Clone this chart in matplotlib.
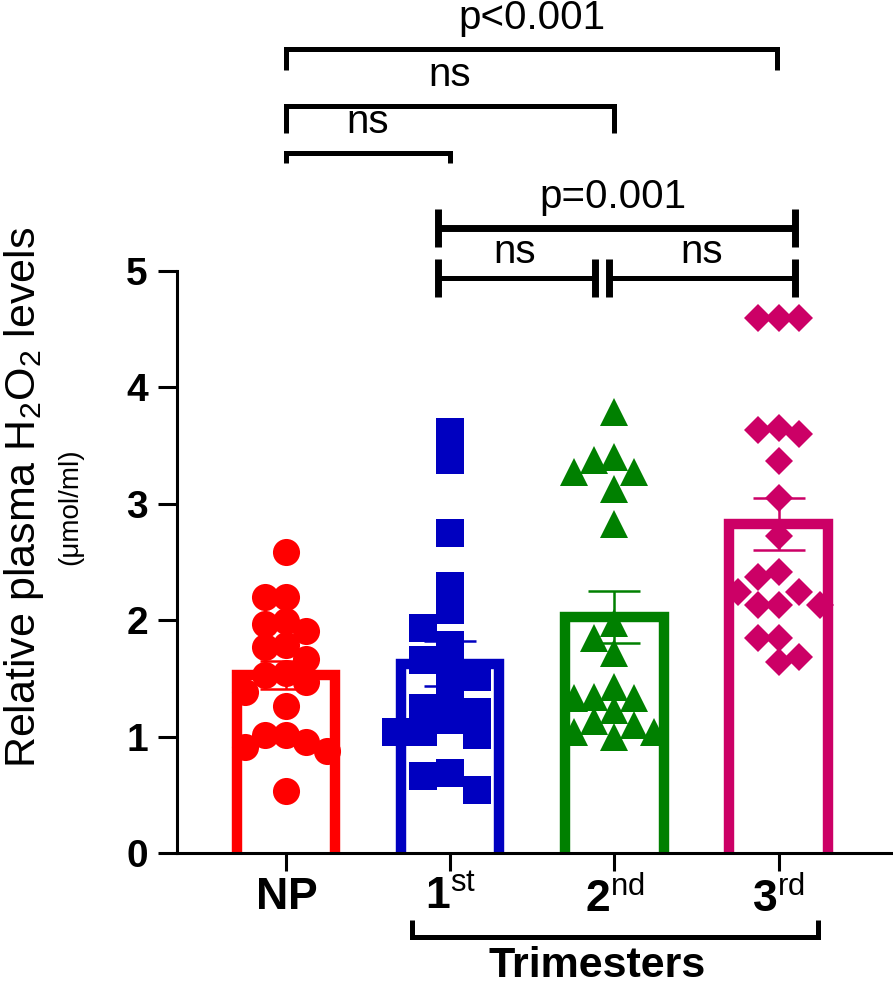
import numpy as np
import matplotlib.pyplot as plt

plt.rcParams['font.family'] = ['Liberation Sans', 'DejaVu Sans']
plt.rcParams['mathtext.fontset'] = 'custom'
plt.rcParams['mathtext.rm'] = 'Liberation Sans'
plt.rcParams['mathtext.it'] = 'Liberation Sans:italic'
plt.rcParams['mathtext.bf'] = 'Liberation Sans:bold'

# Data (umol/ml)
group_labels = [r'$\mathbf{NP}$', r'$\mathbf{1}^{\mathrm{st}}$',
                r'$\mathbf{2}^{\mathrm{nd}}$', r'$\mathbf{3}^{\mathrm{rd}}$']
np_vals = [2.59, 2.20, 2.20, 1.99, 1.97, 1.91, 1.79, 1.77, 1.67, 1.55,
           1.53, 1.47, 1.38, 1.26, 1.01, 1.01, 0.95, 0.91, 0.88, 0.53]
tri1_vals = [3.62, 3.38, 2.75, 2.29, 2.09, 1.93, 1.79, 1.66, 1.57, 1.51,
             1.37, 1.25, 1.21, 1.14, 1.04, 1.04, 1.01, 0.69, 0.66, 0.54]
tri2_vals = [3.79, 3.40, 3.38, 3.27, 3.27, 3.13, 2.83, 1.98, 1.85, 1.72,
             1.43, 1.34, 1.33, 1.33, 1.23, 1.13, 1.10, 1.04, 1.04, 1.00]
tri3_vals = [4.60, 4.60, 4.60, 3.65, 3.63, 3.60, 3.37, 3.05, 2.72, 2.41,
             2.37, 2.24, 2.24, 2.13, 2.13, 2.13, 1.85, 1.85, 1.68, 1.64]
all_vals = [np_vals, tri1_vals, tri2_vals, tri3_vals]

colors = ['#FF0000', '#0000C0', '#008000', '#CC0066']
markers = ['o', 's', '^', 'D']
msizes = [19.5, 19.5, 19.5, 13.8]
slots = [0.125, 0.165, 0.122, 0.125]   # horizontal spacing of the swarm


def swarm_offsets(vals, slot, min_gap=0.19):
    """Greedy beeswarm on a half-slot grid: nearest spot that does not overlap."""
    placed = []
    offs = []
    order = [0.0]
    for i in range(1, 16):
        order += [-0.5 * i, 0.5 * i]
    for v in vals:
        for c in order:
            if all(not (abs(pc - c) < 0.99 and abs(pv - v) < min_gap)
                   for pc, pv in placed):
                break
        placed.append((c, v))
        offs.append(c * slot)
    return np.array(offs)


fig = plt.figure(figsize=(8.93, 9.85), dpi=100)
ax = fig.add_axes([177 / 893, 1 - 853 / 985, (892 - 177) / 893, (853 - 271) / 985])

bar_w = 0.6
for i, vals in enumerate(all_vals):
    vals = np.array(vals)
    mean = vals.mean()
    sem = vals.std(ddof=1) / np.sqrt(len(vals))
    c = colors[i]
    # open bar (no bottom edge)
    ax.plot([i - bar_w / 2, i - bar_w / 2, i + bar_w / 2, i + bar_w / 2],
            [0, mean, mean, 0], color=c, lw=7.5,
            solid_joinstyle='miter', solid_capstyle='butt', zorder=2)
    ax.errorbar(i, mean, yerr=sem, color=c, lw=1.8, capsize=19,
                capthick=1.8, zorder=3)
    xs = i + swarm_offsets(vals, slots[i])
    ax.plot(xs, vals, linestyle='none', marker=markers[i], ms=msizes[i],
            color=c, mec=c, mew=0, zorder=4)

ax.set_xlim(-0.663, 3.69)
ax.set_ylim(0, 5)
ax.spines['top'].set_visible(False)
ax.spines['right'].set_visible(False)
ax.spines['left'].set_linewidth(2.2)
ax.spines['bottom'].set_linewidth(2.2)
ax.set_yticks([0, 1, 2, 3, 4, 5])
ax.set_yticklabels(['0', '1', '2', '3', '4', '5'], fontsize=28, fontweight='bold')
ax.set_xticks(range(4))
ax.set_xticklabels(group_labels, fontsize=32)
ax.tick_params(axis='y', length=14, width=2.2, pad=7)
ax.tick_params(axis='x', length=13, width=2.2, pad=4)

# y label
fig.text(24 / 893, 1 - 497 / 985, r'Relative plasma H$_2$O$_2$ levels',
         rotation=90, ha='center', va='center', fontsize=31)
fig.text(70 / 893, 1 - 507 / 985, '(\u03bcmol/ml)', rotation=90,
         ha='center', va='center', fontsize=20)

# significance brackets (open, upper set)
def bracket(x1, x2, y, drop, lw=3.6):
    ax.plot([x1, x1, x2, x2], [y - drop, y, y, y - drop], color='black',
            lw=lw, clip_on=False, solid_joinstyle='miter', solid_capstyle='butt')

txt_size = 29
bracket(0, 2.99, 6.907, 0.18)
bracket(0, 2.0, 6.418, 0.23)
bracket(0, 1.0, 6.014, 0.09)
ax.text(1.5, 7.17, 'p<0.001', ha='center', va='center', fontsize=txt_size)
ax.text(1.0, 6.68, 'ns', ha='center', va='center', fontsize=txt_size)
ax.text(0.5, 6.28, 'ns', ha='center', va='center', fontsize=txt_size)

# I-shaped brackets among trimesters
def ibar(x1, x2, y, half, lw=4.0):
    ax.plot([x1, x2], [y, y], color='black', lw=lw, clip_on=False,
            solid_capstyle='butt')
    for x in (x1, x2):
        ax.plot([x, x], [y - half, y + half], color='black', lw=5, clip_on=False,
                solid_capstyle='butt')

ibar(0.925, 3.10, 5.369, 0.163, lw=5)
ibar(0.925, 1.88, 4.94, 0.16, lw=3.6)
ibar(1.966, 3.10, 4.94, 0.16, lw=3.6)
ax.text(1.99, 5.636, 'p=0.001', ha='center', va='center', fontsize=txt_size)
ax.text(1.394, 5.163, 'ns', ha='center', va='center', fontsize=txt_size)
ax.text(2.53, 5.163, 'ns', ha='center', va='center', fontsize=txt_size)

# Trimesters bracket below the axis
ax.plot([0.767, 0.767, 3.238, 3.238], [-0.576, -0.722, -0.722, -0.576],
        color='black', lw=3.6, clip_on=False, solid_joinstyle='miter',
        solid_capstyle='butt')
fig.text(597 / 893, 1 - 966 / 985, 'Trimesters', ha='center', va='center',
         fontsize=31, fontweight='bold')

fig.savefig('out.png', dpi=100)
